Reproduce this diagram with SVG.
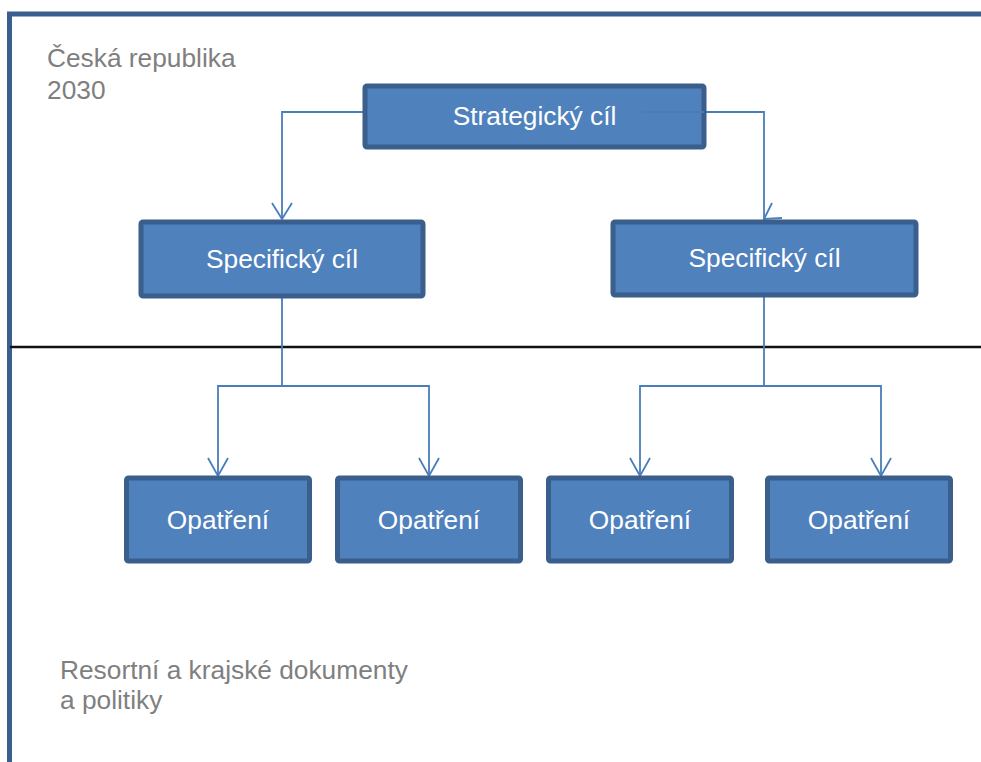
<svg xmlns="http://www.w3.org/2000/svg" width="981" height="762" viewBox="0 0 981 762">
<style>
.box{fill:#4F81BD;stroke:#3A5F8C;stroke-width:5;}
.lbl{font-family:"Liberation Sans",Arial,sans-serif;font-size:26.3px;fill:#FFFFFF;text-anchor:middle;}
.note{font-family:"Liberation Sans",Arial,sans-serif;font-size:26.3px;fill:#7F7F7F;}
.con{fill:none;stroke:#4A7EBB;stroke-width:1.8;}
</style>
<rect width="981" height="762" fill="#FFFFFF"/>
<g id="frame">
<path d="M9.5 762 V14 H981" fill="none" stroke="#3A5F8C" stroke-width="5"/>
<line x1="10" y1="347" x2="981" y2="347" stroke="#111111" stroke-width="2.5"/>
</g>
<g id="connectors">
<path class="con" d="M364 112 H282 V219"/>
<path class="con" d="M272 203 L282 219 L292 203"/>
<path class="con" d="M643 112 H764 V219"/>
<path class="con" d="M772 203 L764 219 L782 218"/>
<path class="con" d="M282 298 V386"/>
<path class="con" d="M218 476 V386 H429 V476"/>
<path class="con" d="M208 458 L218 476 L228 458"/>
<path class="con" d="M419 458 L429 476 L439 458"/>
<path class="con" d="M764 297 V386"/>
<path class="con" d="M640 476 V386 H881 V476"/>
<path class="con" d="M630 458 L640 476 L650 458"/>
<path class="con" d="M871 458 L881 476 L891 458"/>
</g>
<g id="strategic">
<rect class="box" x="365" y="86" width="339" height="61" rx="2"/>
<path class="con" d="M643 112 H704"/>
<text class="lbl" x="534.5" y="125">Strategický cíl</text>
</g>
<g id="specific1">
<rect class="box" x="141" y="222" width="282" height="74" rx="2"/>
<text class="lbl" x="282" y="268">Specifický cíl</text>
</g>
<g id="specific2">
<rect class="box" x="613" y="222" width="303" height="73" rx="2"/>
<text class="lbl" x="764.5" y="267">Specifický cíl</text>
</g>
<g id="measure1">
<rect class="box" x="126.5" y="478" width="183" height="83" rx="2"/>
<text class="lbl" x="218" y="529">Opatření</text>
</g>
<g id="measure2">
<rect class="box" x="337.5" y="478" width="183" height="83" rx="2"/>
<text class="lbl" x="429" y="529">Opatření</text>
</g>
<g id="measure3">
<rect class="box" x="548.5" y="478" width="183" height="83" rx="2"/>
<text class="lbl" x="640" y="529">Opatření</text>
</g>
<g id="measure4">
<rect class="box" x="767.5" y="478" width="183" height="83" rx="2"/>
<text class="lbl" x="859" y="529">Opatření</text>
</g>
<g id="label-cr">
<text class="note" x="47" y="67">Česká republika</text>
<text class="note" x="47" y="99">2030</text>
</g>
<g id="label-resort">
<text class="note" x="60" y="679">Resortní a krajské dokumenty</text>
<text class="note" x="60" y="709">a politiky</text>
</g>
</svg>
